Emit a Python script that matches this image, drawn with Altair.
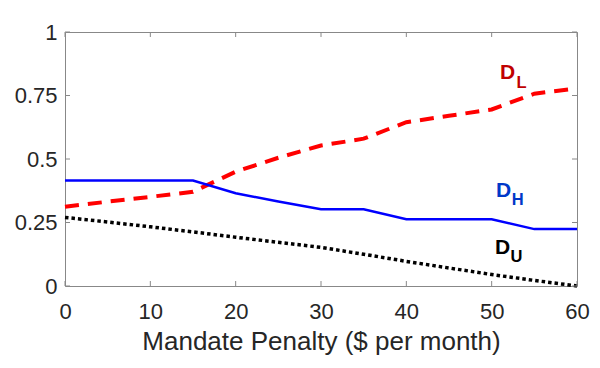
import altair as alt
import pandas as pd

# ---- data ----
penalty = [0, 5, 10, 15, 20, 25, 30, 35, 40, 45, 50, 55, 60]
d_low = [0.312, 0.332, 0.351, 0.371, 0.450, 0.505, 0.553, 0.580, 0.645, 0.670, 0.695, 0.757, 0.778]
d_high = [0.415, 0.415, 0.415, 0.415, 0.365, 0.333, 0.302, 0.302, 0.263, 0.263, 0.263, 0.224, 0.224]
d_unins = [0.270, 0.252, 0.233, 0.213, 0.192, 0.172, 0.152, 0.125, 0.097, 0.071, 0.045, 0.022, 0.000]

x_ticks = [0, 10, 20, 30, 40, 50, 60]
y_ticks = [0, 0.25, 0.5, 0.75, 1]

label_main = ["D", "D", "D"]
label_sub = ["L", "H", "U"]
label_colors = ["#C00000", "#0038C8", "#000000"]
label_x = [50.98, 50.5, 50.4]
label_y = [0.815, 0.349, 0.126]
sub_x = [52.9, 52.35, 52.2]
sub_y = [0.778, 0.319, 0.096]

FONT = "Liberation Sans"
TXT = "#262626"
BOX = "#888888"

df = pd.DataFrame({"x": penalty, "low": d_low, "high": d_high, "un": d_unins})

xscale = alt.Scale(domain=[0, 60], nice=False)
yscale = alt.Scale(domain=[0, 1], nice=False)

xaxis = alt.Axis(values=x_ticks, format="d", grid=False, ticks=False, domain=False,
                 labelFlush=False,
                 labelFont=FONT, labelFontSize=22, labelColor=TXT, labelPadding=15,
                 title="Mandate Penalty ($ per month)", titleFont=FONT, titleFontSize=26,
                 titleFontWeight="normal", titleColor=TXT, titleBaseline="alphabetic",
                 titleY=63)
yaxis = alt.Axis(values=y_ticks, labelExpr="datum.value == 0.25 ? '0.25' : datum.value == 0.75 ? '0.75' : format(datum.value, '')",
                 grid=False, ticks=False, domain=False, labelFlush=False, labelFont=FONT,
                 labelFontSize=22, labelColor=TXT, labelPadding=8, title=None)

base = alt.Chart(df)

red = base.mark_line(color="#FF0000", strokeWidth=4, strokeDash=[14, 9]).encode(
    x=alt.X("x:Q", scale=xscale, axis=xaxis),
    y=alt.Y("low:Q", scale=yscale, axis=yaxis),
)
blue = base.mark_line(color="#0000FF", strokeWidth=2.5).encode(
    x=alt.X("x:Q", scale=xscale), y=alt.Y("high:Q", scale=yscale)
)
black = base.mark_line(color="#000000", strokeWidth=3.5, strokeDash=[3.5, 3]).encode(
    x=alt.X("x:Q", scale=xscale), y=alt.Y("un:Q", scale=yscale)
)

# inward tick marks (MATLAB style)
xt = alt.Chart(pd.DataFrame({"t": x_ticks}))
yt = alt.Chart(pd.DataFrame({"t": y_ticks}))
tick_style = dict(color=BOX, strokeWidth=1)
bottom_ticks = xt.mark_rule(**tick_style).encode(
    x=alt.X("t:Q", scale=xscale), y=alt.value(254), y2=alt.value(249))
top_ticks = xt.mark_rule(**tick_style).encode(
    x=alt.X("t:Q", scale=xscale), y=alt.value(0), y2=alt.value(5))
left_ticks = yt.mark_rule(**tick_style).encode(
    y=alt.Y("t:Q", scale=yscale), x=alt.value(0), x2=alt.value(5))
right_ticks = yt.mark_rule(**tick_style).encode(
    y=alt.Y("t:Q", scale=yscale), x=alt.value(512), x2=alt.value(507))

lab_df = pd.DataFrame({"m": label_main, "s": label_sub, "c": label_colors,
                       "x": label_x, "y": label_y, "sx": sub_x, "sy": sub_y})
labs = alt.Chart(lab_df)
main_text = labs.mark_text(font=FONT, fontSize=21, fontWeight="bold", align="left",
                           baseline="alphabetic").encode(
    x=alt.X("x:Q", scale=xscale), y=alt.Y("y:Q", scale=yscale), text="m:N",
    color=alt.Color("c:N", scale=None))
sub_text = labs.mark_text(font=FONT, fontSize=16.5, fontWeight="bold", align="left",
                          baseline="alphabetic").encode(
    x=alt.X("sx:Q", scale=xscale), y=alt.Y("sy:Q", scale=yscale), text="s:N",
    color=alt.Color("c:N", scale=None))

chart = alt.layer(
    red, blue, black, bottom_ticks, top_ticks, left_ticks, right_ticks, main_text, sub_text
).properties(
    width=512, height=254,
    autosize=alt.AutoSizeParams(type="none"),
    padding={"left": 57, "top": 24, "right": 15, "bottom": 74},
    background="white",
).configure_view(stroke=BOX, strokeWidth=1)

chart.save("out.html", embed_options={"renderer": "svg", "actions": False})
